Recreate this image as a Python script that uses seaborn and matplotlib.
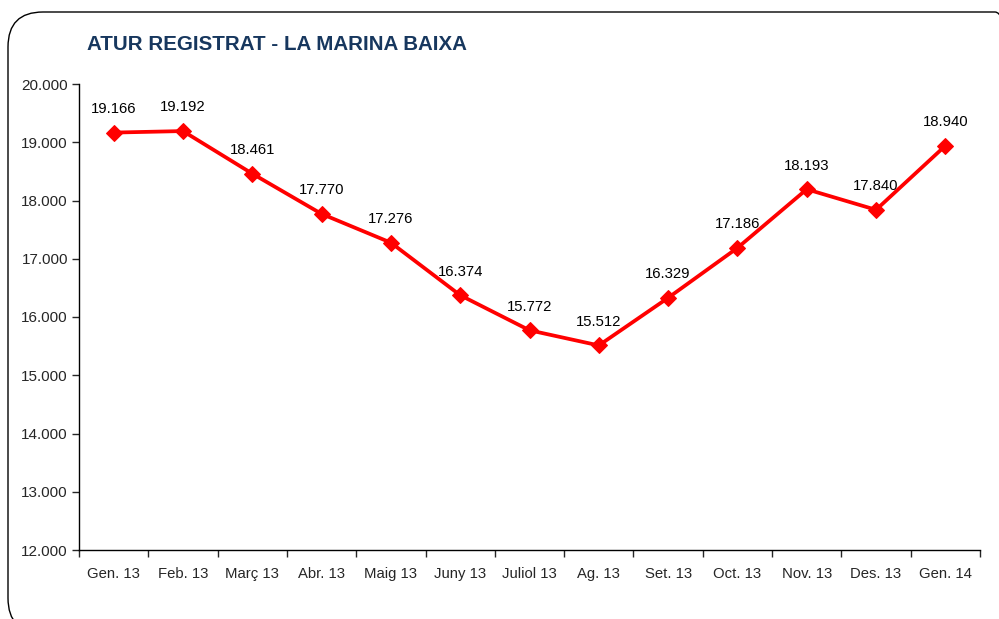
import matplotlib
matplotlib.use("Agg")
import matplotlib.pyplot as plt
import numpy as np
import pandas as pd
import seaborn as sns
from matplotlib.patches import FancyBboxPatch
from matplotlib.ticker import FixedLocator, FuncFormatter

months = ["Gen. 13", "Feb. 13", "Març 13", "Abr. 13", "Maig 13", "Juny 13", "Juliol 13",
          "Ag. 13", "Set. 13", "Oct. 13", "Nov. 13", "Des. 13", "Gen. 14"]
atur = [19166, 19192, 18461, 17770, 17276, 16374, 15772, 15512, 16329, 17186, 18193, 17840, 18940]
y_ticks = [12000, 13000, 14000, 15000, 16000, 17000, 18000, 19000, 20000]

sns.set_style("white")
plt.rcParams["font.family"] = ["Liberation Sans", "DejaVu Sans"]


def dot_thousands(v, pos=None):
    return f"{int(v):,}".replace(",", ".")


df = pd.DataFrame({"pos": np.arange(len(months)), "atur": atur})

fig = plt.figure(figsize=(9.99, 6.19), dpi=100)
W, H = 999, 619

# rounded frame around the chart area (cut off at right and bottom)
frame = FancyBboxPatch((8 / W, -14 / H), (1030 - 8) / W, (607 + 14) / H,
                       boxstyle="round,pad=0,rounding_size=0.035",
                       transform=fig.transFigure, fill=False, lw=1.0,
                       ec="black", mutation_aspect=W / H)
fig.patches.append(frame)

ax = fig.add_axes([79 / W, 1 - 550 / H, (980 - 79) / W, (550 - 84) / H])
sns.lineplot(data=df, x="pos", y="atur", ax=ax, color="#FF0000", lw=2.7,
             marker="D", markersize=8, markeredgecolor="#FF0000")

for x, v in zip(df["pos"], df["atur"]):
    ax.annotate(dot_thousands(v), (x, v), xytext=(0, 17), textcoords="offset points",
                ha="center", va="center", fontsize=10.7, color="black")

ax.set_xlim(-0.5, len(months) - 0.5)
ax.set_ylim(12000, 20000)
ax.yaxis.set_major_locator(FixedLocator(y_ticks))
ax.yaxis.set_major_formatter(FuncFormatter(dot_thousands))
ax.xaxis.set_major_locator(FixedLocator(np.arange(len(months) + 1) - 0.5))
ax.xaxis.set_major_formatter(FuncFormatter(lambda v, p: ""))
ax.xaxis.set_minor_locator(FixedLocator(np.arange(len(months))))
ax.set_xticklabels(months, minor=True)
ax.tick_params(axis="x", which="minor", length=0, pad=12, labelsize=10.7)
ax.tick_params(axis="x", which="major", length=5, width=1, direction="out", bottom=True)
ax.tick_params(axis="y", length=5, width=1, direction="out", left=True, labelsize=11, pad=3)
ax.set_xlabel("")
ax.set_ylabel("")
for side in ["top", "right"]:
    ax.spines[side].set_visible(False)
for side in ["left", "bottom"]:
    ax.spines[side].set_color("black")
    ax.spines[side].set_linewidth(1)

fig.text(87 / W, 1 - 45 / H, "ATUR REGISTRAT - LA MARINA BAIXA", fontsize=14.8,
         fontweight="bold", color="#17375E", ha="left", va="center")

fig.savefig("out.png", dpi=100)
